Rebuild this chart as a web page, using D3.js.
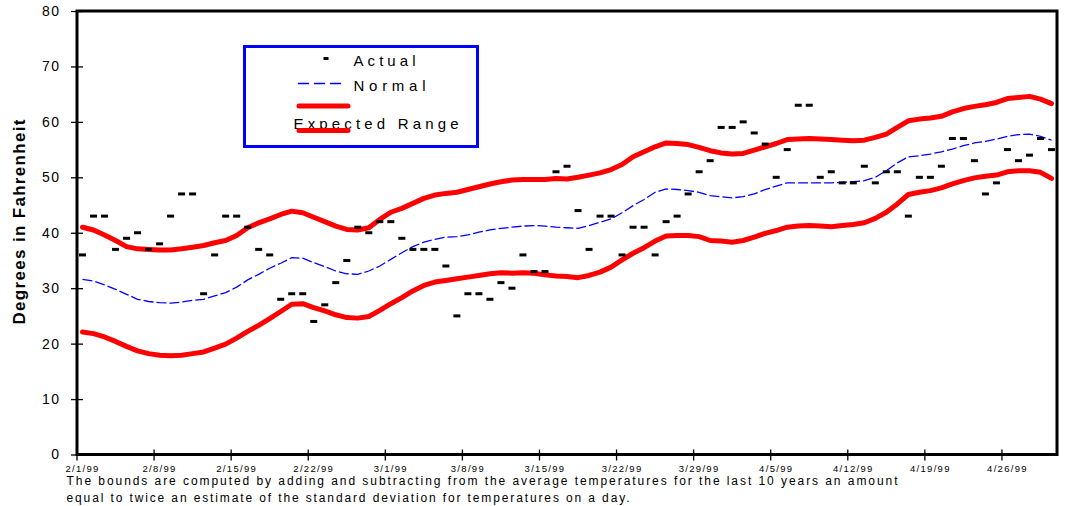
<!DOCTYPE html>
<html><head><meta charset="utf-8">
<script src="https://cdn.jsdelivr.net/npm/d3@7"></script>
<style>
body{margin:0;background:#fff}
svg{display:block}
text{font-family:Arial,"Liberation Sans",sans-serif;fill:#000}
</style></head>
<body><svg id="c" width="1068" height="506"></svg>
<script>
// Daily actual temperatures, 2/1/99 .. 4/30/99
const actual = [36,43,43,37,39,40,37,38,43,47,47,29,36,43,43,41,37,36,28,29,29,24,27,31,35,41,40,42,42,39,37,37,37,34,25,29,29,28,31,30,36,33,33,51,52,44,37,43,43,36,41,41,36,42,43,47,51,53,59,59,60,58,56,50,55,63,63,50,51,49,49,52,49,51,51,43,50,50,52,57,57,53,47,49,55,53,54,57,55];
const normal = [31.6,31.3,30.6,29.8,28.9,28.0,27.6,27.4,27.3,27.5,27.8,28.0,28.6,29.2,30.2,31.5,32.5,33.6,34.5,35.5,35.4,34.6,33.9,33.1,32.6,32.5,33.1,34.0,35.2,36.4,37.5,38.3,38.8,39.2,39.3,39.6,40.1,40.5,40.8,41.0,41.2,41.3,41.2,41.0,40.9,40.8,41.3,41.9,42.5,43.6,44.9,46.0,47.3,47.9,47.8,47.6,47.3,46.7,46.5,46.3,46.5,47.0,47.8,48.4,49.0,49.0,49.0,49.0,49.0,49.1,49.2,49.4,50.0,51.2,52.6,53.7,53.9,54.2,54.6,55.1,55.7,56.2,56.5,56.9,57.4,57.7,57.8,57.4,56.7];
const upper = [41.0,40.5,39.6,38.6,37.5,37.1,37.0,36.9,36.9,37.1,37.4,37.7,38.2,38.6,39.5,40.9,41.8,42.5,43.3,43.9,43.6,42.8,42.0,41.2,40.6,40.5,40.9,42.4,43.7,44.4,45.3,46.2,46.8,47.1,47.3,47.8,48.3,48.8,49.2,49.5,49.6,49.6,49.6,49.8,49.7,50.0,50.4,50.8,51.4,52.3,53.7,54.6,55.5,56.2,56.1,55.9,55.4,54.8,54.4,54.2,54.3,54.9,55.5,56.1,56.8,56.9,57.0,56.9,56.8,56.7,56.6,56.7,57.2,57.8,59.0,60.2,60.5,60.7,61.0,61.8,62.4,62.8,63.1,63.5,64.2,64.4,64.6,64.1,63.3];
const lower = [22.1,21.8,21.2,20.4,19.5,18.7,18.2,17.9,17.8,17.9,18.2,18.5,19.2,19.9,21.0,22.2,23.3,24.5,25.8,27.1,27.2,26.5,25.9,25.2,24.7,24.6,24.9,26.0,27.2,28.3,29.5,30.5,31.1,31.4,31.7,32.0,32.3,32.6,32.8,32.7,32.8,32.7,32.4,32.2,32.1,31.9,32.3,32.9,33.8,35.1,36.3,37.3,38.5,39.4,39.5,39.5,39.3,38.6,38.5,38.3,38.6,39.2,39.9,40.4,41.0,41.2,41.3,41.2,41.1,41.3,41.5,41.8,42.6,43.7,45.2,46.9,47.3,47.6,48.1,48.8,49.4,49.9,50.2,50.4,51.0,51.2,51.2,50.9,49.8];
const yTicks = [0,10,20,30,40,50,60,70,80];
const tickLabels = ["2/1/99","2/8/99","2/15/99","2/22/99","3/1/99","3/8/99","3/15/99","3/22/99","3/29/99","4/5/99","4/12/99","4/19/99","4/26/99"];
const legendLabels = ["Actual","Normal","Expected Range"];
const footnote = ["The bounds are computed by adding and subtracting from the average temperatures for the last 10 years an amount",
                  "equal to twice an estimate of the standard deviation for temperatures on a day."];

const fmt = d3.timeFormat("%-m/%-d/%y");
const days = d3.timeDay.range(new Date(1999,1,1), new Date(1999,4,1)).map(fmt);

const svg = d3.select("#c");
const L=77, R=1057, T=11, B=454.5;
const x = d3.scaleBand().domain(days).range([L,R]);
const y = d3.scaleLinear().domain([0,80]).range([B,T]);
const cx = i => x(days[i]) + x.bandwidth()/2;

const line = d3.line().x((d,i)=>cx(i)).y(d=>y(d));

// series
[upper, lower].forEach(s=>{
  svg.append("path").datum(s).attr("d",line).attr("fill","none")
    .attr("stroke","#ff0000").attr("stroke-width",5)
    .attr("stroke-linejoin","round").attr("stroke-linecap","round");
});
svg.append("path").datum(normal).attr("d",line).attr("fill","none")
  .attr("stroke","#0000ff").attr("stroke-width",1.3).attr("stroke-dasharray","10,3");

svg.append("g").selectAll("rect").data(actual).join("rect")
  .attr("x",(d,i)=>cx(i)-3.5).attr("y",d=>y(d)-1.5)
  .attr("width",7).attr("height",3).attr("fill","#000");

// y axis
const ya = svg.append("g").attr("transform",`translate(${L},0)`)
  .call(d3.axisLeft(y).tickValues(yTicks).tickSize(6));
ya.select(".domain").remove();
ya.selectAll(".tick line").attr("x1",6).attr("x2",-6).attr("stroke","#000").attr("stroke-width",1.3);
ya.selectAll(".tick text").attr("x",-16.5).attr("font-size",14).attr("letter-spacing",1.5)
  .attr("font-family","Arial, 'Liberation Sans', sans-serif");

// x axis
const xa = svg.append("g").attr("transform",`translate(0,${B})`)
  .call(d3.axisBottom(x).tickValues(tickLabels).tickSize(0));
xa.select(".domain").remove();
xa.selectAll(".tick text").attr("y",17.5).attr("dy",0).attr("font-size",9.5).attr("letter-spacing",1.3)
  .attr("font-family","Arial, 'Liberation Sans', sans-serif");
xa.selectAll(".tickmark").data(tickLabels).join("line").attr("class","tickmark")
  .attr("x1",d=>x(d)).attr("x2",d=>x(d)).attr("y1",-5).attr("y2",6)
  .attr("stroke","#000").attr("stroke-width",1.3);

// frame
svg.append("rect").attr("x",L).attr("y",T).attr("width",R-L).attr("height",B-T)
  .attr("fill","none").attr("stroke","#000").attr("stroke-width",3);

// y title
svg.append("text").attr("transform","translate(25,222) rotate(-90)")
  .attr("text-anchor","middle").attr("font-weight","bold").attr("font-size",17)
  .attr("textLength",205).attr("lengthAdjust","spacing")
  .text("Degrees in Fahrenheit");

// legend
const lg = svg.append("g");
lg.append("rect").attr("x",244.5).attr("y",46.5).attr("width",233).attr("height",100)
  .attr("fill","#fff").attr("stroke","#0000ff").attr("stroke-width",3);
lg.append("rect").attr("x",323.5).attr("y",57).attr("width",5).attr("height",3).attr("fill","#000");
lg.append("text").attr("x",353.5).attr("y",66).attr("font-size",15)
  .attr("textLength",62).attr("lengthAdjust","spacing").text(legendLabels[0]);
lg.append("line").attr("x1",298).attr("x2",343).attr("y1",83.5).attr("y2",83.5)
  .attr("stroke","#0000ff").attr("stroke-width",1.3).attr("stroke-dasharray","11,5");
lg.append("text").attr("x",353.5).attr("y",91).attr("font-size",15)
  .attr("textLength",72).attr("lengthAdjust","spacing").text(legendLabels[1]);
lg.append("line").attr("x1",299).attr("x2",348).attr("y1",106).attr("y2",106)
  .attr("stroke","#ff0000").attr("stroke-width",5).attr("stroke-linecap","round");
lg.append("text").attr("x",293.5).attr("y",128.5).attr("font-size",15)
  .attr("textLength",165).attr("lengthAdjust","spacing").text(legendLabels[2]);
lg.append("line").attr("x1",299).attr("x2",348).attr("y1",130.5).attr("y2",130.5)
  .attr("stroke","#ff0000").attr("stroke-width",5).attr("stroke-linecap","round");

// footnote
svg.append("text").attr("x",66.5).attr("y",485).attr("font-size",12)
  .attr("textLength",831).attr("lengthAdjust","spacing").text(footnote[0]);
svg.append("text").attr("x",66.5).attr("y",502).attr("font-size",12)
  .attr("textLength",563).attr("lengthAdjust","spacing").text(footnote[1]);
</script></body></html>
